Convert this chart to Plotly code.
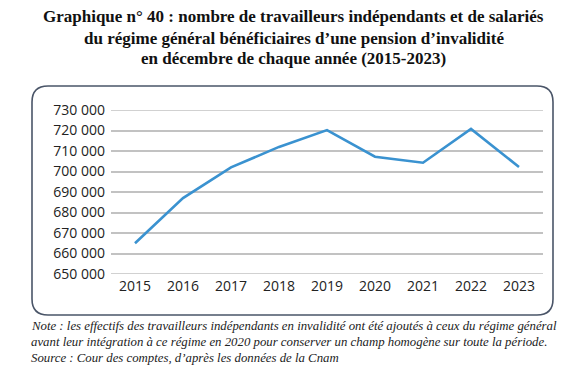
import plotly.graph_objects as go

years = ["2015", "2016", "2017", "2018", "2019", "2020", "2021", "2022", "2023"]
beneficiaires = [665000, 687000, 702000, 712000, 720200, 707200, 704300, 720800, 702200]
y_ticks = [650000, 660000, 670000, 680000, 690000, 700000, 710000, 720000, 730000]

title_lines = [
    "Graphique n° 40 : nombre de travailleurs indépendants et de salariés",
    "du régime général bénéficiaires d’une pension d’invalidité",
    "en décembre de chaque année (2015-2023)",
]
note_lines = [
    "Note : les effectifs des travailleurs indépendants en invalidité ont été ajoutés à ceux du régime général",
    "avant leur intégration à ce régime en 2020 pour conserver un champ homogène sur toute la période.",
    "Source : Cour des comptes, d’après les données de la Cnam",
]

GRID = "#c2c2c2"

# page body has an 8px default margin; work in page pixels, convert to figure pixels
OFF = 8
W, H = 587 - OFF, 369 - OFF
L, R, T, B = 111 - OFF, 52 - OFF, 110 - OFF, 95
pw, ph = W - L - R, H - T - B

def px_x(x):
    return (x - OFF - L) / pw

def px_y(y):
    return (H - B - (y - OFF)) / ph

fig = go.Figure()
fig.add_trace(go.Scatter(
    x=years, y=beneficiaires, mode="lines",
    line=dict(color="#3a92d0", width=2.6),
    hoverinfo="x+y",
))

# gridlines at the range edges (plotly omits those at the plot border)
for v in (y_ticks[0], y_ticks[-1]):
    fig.add_hline(y=v, line=dict(color=GRID, width=1.6), layer="below")

# rounded frame (pixel offsets from plot bottom-left), page coords
bx0, bx1, by0, by1 = 32, 553, 86, 315
base_x, base_y = L + OFF, H - B + OFF
x0, x1 = bx0 - base_x, bx1 - base_x
y0, y1 = base_y - by1, base_y - by0
r = 16
path = (f"M {x0+r},{y1} L {x1-r},{y1} Q {x1},{y1} {x1},{y1-r} "
        f"L {x1},{y0+r} Q {x1},{y0} {x1-r},{y0} "
        f"L {x0+r},{y0} Q {x0},{y0} {x0},{y0+r} "
        f"L {x0},{y1-r} Q {x0},{y1} {x0+r},{y1} Z")
fig.add_shape(type="path", xref="paper", yref="paper",
              xsizemode="pixel", ysizemode="pixel", xanchor=0, yanchor=0,
              path=path, fillcolor="rgba(0,0,0,0)",
              line=dict(color="#4a5568", width=1.6), layer="above")

for i, t in enumerate(title_lines):
    fig.add_annotation(text=f"<b>{t}</b>", xref="paper", yref="paper",
                       x=px_x(587 / 2), y=px_y(17 + 21 * i), xanchor="center", yanchor="middle",
                       showarrow=False,
                       font=dict(family="Liberation Serif", size=17, color="#111"))

for i, t in enumerate(note_lines):
    fig.add_annotation(text=f"<i>{t}</i>", xref="paper", yref="paper",
                       x=px_x(29), y=px_y(326 + 16 * i), xanchor="left", yanchor="middle",
                       showarrow=False,
                       font=dict(family="Liberation Serif", size=12.8, color="#222"))

fig.update_layout(
    width=W, height=H,
    margin=dict(l=L, r=R, t=T, b=B, pad=0),
    paper_bgcolor="white", plot_bgcolor="white",
    showlegend=False,
    separators=", ",
    font=dict(family="Open Sans", size=14, color="#222"),
)
fig.update_xaxes(type="category", range=[-0.5, 8.5], showgrid=False, zeroline=False,
                 showline=False, ticks="", ticklabelstandoff=2,
                 tickfont=dict(size=14, color="#222"))
fig.update_yaxes(range=[650000, 730000], tickvals=y_ticks, tickformat=",d",
                 showgrid=True, gridcolor=GRID, gridwidth=1.6, zeroline=False,
                 showline=False, ticks="", ticklabelstandoff=5,
                 tickfont=dict(size=14, color="#222"))

fig.write_html("out.html")
